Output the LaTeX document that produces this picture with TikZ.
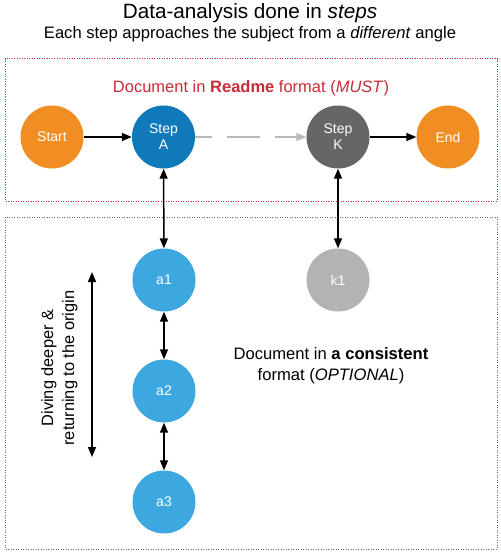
\documentclass[tikz,border=0pt]{standalone}
\usepackage{fontspec}
\setmainfont{Liberation Sans}
\usetikzlibrary{arrows.meta}
\definecolor{corange}{RGB}{240,142,35}
\definecolor{cblue}{RGB}{16,121,186}
\definecolor{clight}{RGB}{61,168,224}
\definecolor{cdark}{RGB}{102,102,102}
\definecolor{cgrayk}{RGB}{179,179,179}
\definecolor{cred}{RGB}{200,45,55}
\definecolor{cdash}{RGB}{185,185,185}
\tikzset{
  x=1pt, y=-1pt,
  circ/.style={circle, minimum size=63pt, inner sep=0pt, text=white, font=\fontsize{14}{16}\selectfont, align=center},
  conn/.style={line width=1.5pt, -{Triangle[length=10pt,width=8pt]}},
  bconn/.style={line width=1.5pt, {Triangle[length=10pt,width=8pt]}-{Triangle[length=10pt,width=8pt]}},
  frame/.style={line width=1pt, dash pattern=on 1pt off 1.5pt},
}
\begin{document}
\begin{tikzpicture}
\useasboundingbox (0,0) rectangle (500,553);
\fill[white] (0,0) rectangle (500,553);
% titles
\node (title) at (250,13) {\fontsize{20.7}{24}\selectfont Data-analysis done in \textit{steps}};
\node (sub) at (250,34) {\fontsize{16.6}{19}\selectfont Each step approaches the subject from a \textit{different} angle};
% frames
\draw[frame, cred] (5,59) rectangle (497,201);
\draw[frame, cdark] (5,217) rectangle (497,549);
\node[text=cred, font=\fontsize{16.5}{19}\selectfont] (readme) at (251,88) {Document in \textbf{Readme} format (\textit{MUST})};
% nodes
\node[circ, fill=corange] (start) at (52,137) {Start};
\node[circ, fill=cblue] (stepa) at (163.5,137) {Step\\A};
\node[circ, fill=cdark] (stepk) at (338,137) {Step\\K};
\node[circ, fill=corange] (end) at (448,137) {End};
\node[circ, fill=clight] (a1) at (164,280) {a1};
\node[circ, fill=clight] (a2) at (164,391) {a2};
\node[circ, fill=clight] (a3) at (164,502) {a3};
\node[circ, fill=cgrayk] (k1) at (338,280) {k1};
% connectors
\draw[conn] (start) -- (stepa);
\draw[line width=1.3pt, cdash, dash pattern=on 33pt off 15pt, dash phase=16pt, -{Triangle[length=10pt,width=8pt]}] (stepa) -- (stepk);
\draw[conn] (stepk) -- (end);
\draw[bconn] (stepa) -- (a1);
\draw[bconn] (stepk) -- (k1);
\draw[bconn] (a1) -- (a2);
\draw[bconn] (a2) -- (a3);
\coordinate (vtop) at (92,272);
\coordinate (vbot) at (92,457);
\draw[bconn] (vtop) -- (vbot);
\node[rotate=90, align=center, font=\fontsize{16.4}{21}\selectfont] (diving) at (59.5,368) {Diving deeper \&\\returning to the origin};
\node[align=center, font=\fontsize{16.6}{21}\selectfont] (consistent) at (331,366) {Document in \textbf{a consistent}\\format (\textit{OPTIONAL})};
\end{tikzpicture}
\end{document}
